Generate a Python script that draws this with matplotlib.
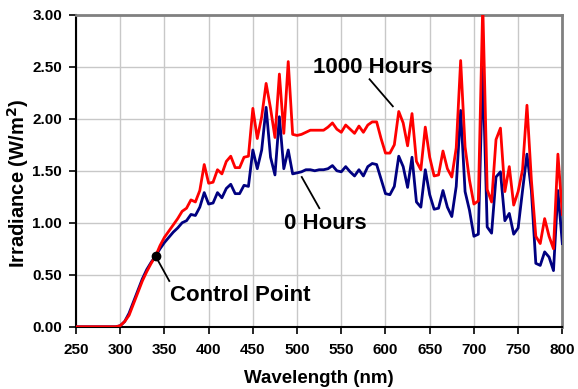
import numpy as np
import matplotlib
matplotlib.use("Agg")
import matplotlib.pyplot as plt

# Spectral irradiance, 5 nm steps from 250 to 800 nm
wavelength = np.arange(250, 801, 5)

irr_1000h = [
    0.00, 0.00, 0.00, 0.00, 0.00, 0.00, 0.00, 0.00, 0.00, 0.00,
    0.01, 0.05, 0.11, 0.22, 0.33, 0.44, 0.53, 0.61, 0.68, 0.78,
    0.86, 0.92, 0.98, 1.04, 1.11, 1.14, 1.22, 1.20, 1.31, 1.56,
    1.38, 1.39, 1.51, 1.47, 1.59, 1.64, 1.53, 1.53, 1.63, 1.64,
    2.10, 1.81, 2.02, 2.34, 2.10, 1.82, 2.43, 1.86, 2.55, 1.85,
    1.84, 1.85, 1.87, 1.89, 1.89, 1.89, 1.89, 1.92, 1.96, 1.90,
    1.87, 1.94, 1.90, 1.86, 1.93, 1.87, 1.94, 1.97, 1.97, 1.81,
    1.67, 1.67, 1.75, 2.07, 1.96, 1.74, 2.05, 1.59, 1.51, 1.92,
    1.63, 1.45, 1.46, 1.69, 1.52, 1.44, 1.72, 2.56, 1.73, 1.41,
    1.18, 1.21, 3.10, 1.32, 1.20, 1.80, 1.91, 1.30, 1.54, 1.17,
    1.30, 1.51, 2.13, 1.41, 0.87, 0.80, 1.04, 0.87, 0.75, 1.66,
    1.08,
]

irr_0h = [
    0.00, 0.00, 0.00, 0.00, 0.00, 0.00, 0.00, 0.00, 0.00, 0.00,
    0.01, 0.05, 0.13, 0.24, 0.35, 0.46, 0.55, 0.62, 0.68, 0.75,
    0.81, 0.86, 0.91, 0.95, 1.00, 1.02, 1.08, 1.07, 1.15, 1.29,
    1.18, 1.19, 1.29, 1.24, 1.33, 1.37, 1.28, 1.28, 1.36, 1.35,
    1.70, 1.52, 1.70, 2.11, 1.63, 1.46, 2.02, 1.52, 1.70, 1.47,
    1.48, 1.49, 1.51, 1.51, 1.50, 1.51, 1.51, 1.52, 1.55, 1.50,
    1.49, 1.54, 1.49, 1.45, 1.51, 1.45, 1.54, 1.57, 1.56, 1.42,
    1.28, 1.27, 1.35, 1.64, 1.54, 1.34, 1.63, 1.20, 1.15, 1.51,
    1.27, 1.13, 1.14, 1.31, 1.15, 1.06, 1.35, 2.08, 1.30, 1.12,
    0.87, 0.89, 2.50, 0.96, 0.90, 1.44, 1.49, 1.02, 1.09, 0.89,
    0.95, 1.31, 1.66, 1.31, 0.61, 0.59, 0.72, 0.67, 0.54, 1.31,
    0.80,
]

control_wl = 340
control_irr = 0.68

x_ticks = np.arange(250, 801, 50)
y_ticks = np.arange(0, 3.01, 0.5)

plt.rcParams['font.family'] = ['Liberation Sans', 'DejaVu Sans']
plt.rcParams['font.weight'] = 'bold'

fig = plt.figure(figsize=(5.78, 3.89), dpi=100)
ax = fig.add_axes([0.1315, 0.160, 0.8414, 0.802])

ax.plot(wavelength, irr_0h, color='#000080', lw=2.0, zorder=3)
ax.plot(wavelength, irr_1000h, color='#ff0000', lw=2.0, zorder=4)

# Control point marker
ax.plot([control_wl], [control_irr], 'o', color='black', ms=6, zorder=5)

ax.set_xlim(250, 800)
ax.set_ylim(0, 3.0)
ax.set_xticks(x_ticks)
ax.set_yticks(y_ticks)
ax.set_xticklabels([str(t) for t in x_ticks], fontsize=11, fontweight='bold')
ax.set_yticklabels([f"{t:.2f}" for t in y_ticks], fontsize=11, fontweight='bold')
ax.tick_params(axis='both', direction='out', length=5, width=1.2, color='black')
ax.tick_params(axis='x', pad=7)
ax.tick_params(axis='y', pad=5)

ax.grid(True, color='#c8c8c8', lw=1.0, zorder=0)
ax.set_axisbelow(True)

for side in ['left', 'bottom']:
    ax.spines[side].set_color('black')
    ax.spines[side].set_linewidth(1.5)
for side in ['top', 'right']:
    ax.spines[side].set_color('#808080')
    ax.spines[side].set_linewidth(2.0)

ax.set_xlabel("Wavelength (nm)", fontsize=13.5, fontweight='bold', labelpad=9)
ax.set_ylabel("Irradiance (W/m$^\\mathbf{2}$)", fontsize=14.5, fontweight='bold')
ax.yaxis.set_label_coords(-0.092, 0.46)

# Annotations with leader lines
ax.text(586, 2.49, "1000 Hours", fontsize=16, fontweight='bold', ha='center', va='center')
ax.plot([582, 608.3], [2.38, 2.12], color='black', lw=1.3)

ax.text(531.7, 0.99, "0 Hours", fontsize=16, fontweight='bold', ha='center', va='center')
ax.plot([505.3, 525.2], [1.44, 1.14], color='black', lw=1.3)

ax.text(436, 0.30, "Control Point", fontsize=16, fontweight='bold', ha='center', va='center')
ax.plot([341.2, 355.5], [0.66, 0.44], color='black', lw=1.3)

fig.savefig("out.png", dpi=100)
plt.close()
